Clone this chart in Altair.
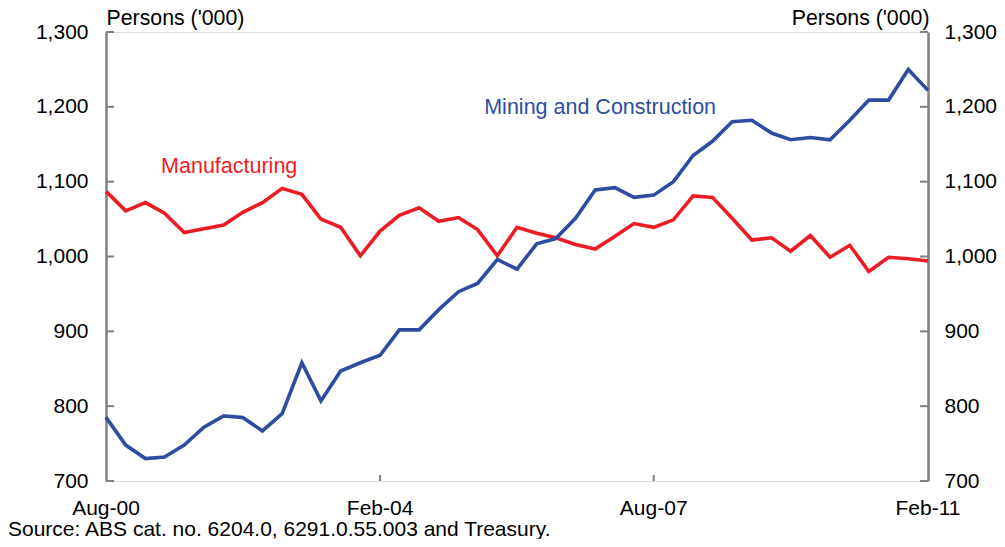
import altair as alt
import pandas as pd

# Quarterly, Aug-00 .. Feb-11 (43 quarters)
quarters = [f"{2000 + (7 + 3 * i) // 12:04d}-{(7 + 3 * i) % 12 + 1:02d}-01" for i in range(43)]
manufacturing = [1087, 1061, 1072, 1058, 1032, 1037, 1042, 1059, 1072, 1091,
                 1083, 1050, 1039, 1001, 1034, 1055, 1065, 1047, 1052, 1036,
                 1001, 1039, 1031, 1025, 1016, 1010, 1027, 1044, 1039, 1049,
                 1081, 1079, 1051, 1022, 1025, 1007, 1028, 999, 1015, 980,
                 999, 997, 994]
mining_construction = [785, 748, 730, 732, 748, 772, 787, 785, 767, 790,
                       858, 807, 847, 858, 868, 902, 902, 929, 953, 964,
                       996, 983, 1017, 1024, 1051, 1089, 1092, 1079, 1082, 1100,
                       1135, 1154, 1180, 1182, 1165, 1156, 1159, 1156, 1182, 1209,
                       1209, 1250, 1222]

x_tick_dates = ["2000-08-01", "2004-02-01", "2007-08-01", "2011-02-01"]
x_tick_labels = ["Aug-00", "Feb-04", "Aug-07", "Feb-11"]
y_ticks = [700, 800, 900, 1000, 1100, 1200, 1300]

series_names = ["Manufacturing", "Mining and Construction"]
series_colors = ["#ED1C24", "#2E4DA0"]
label_dates = ["2001-04-15", "2005-06-01"]
label_y = [1111, 1191]
source_text = "Source: ABS cat. no. 6204.0, 6291.0.55.003 and Treasury."

GREY = "#808080"
FONT = "Arial"
W, H = 822, 449

df = pd.DataFrame({
    "date": quarters * 2,
    "value": manufacturing + mining_construction,
    "series": [series_names[0]] * 43 + [series_names[1]] * 43,
})
lab_df = pd.DataFrame({"date": label_dates, "value": label_y, "text": series_names, "c": series_colors})
ytick_df = pd.DataFrame({"v": y_ticks})
xtick_df = pd.DataFrame({"date": x_tick_dates[1:3]})
xlab_df = pd.DataFrame({"date": x_tick_dates, "text": x_tick_labels})
src_df = pd.DataFrame({"text": [source_text]})

xscale = alt.Scale(type="utc", domain=[x_tick_dates[0], x_tick_dates[-1]], nice=False)
yscale = alt.Scale(domain=[700, 1300], nice=False, zero=False)

left_axis = alt.Axis(values=y_ticks, format=",d", ticks=False, tickSize=0, grid=False,
                     domainColor=GREY, domainWidth=2.5, labelPadding=18,
                     labelFontSize=21, labelFont=FONT, labelColor="black",
                     title="Persons ('000)", titleAngle=0, titleAlign="left",
                     titleBaseline="alphabetic", titleX=0, titleY=-8,
                     titleFontSize=21.3, titleFont=FONT, titleFontWeight="normal",
                     titleColor="black", orient="left")
right_axis = alt.Axis(values=y_ticks, format=",d", ticks=False, tickSize=0, grid=False,
                      domainColor=GREY, domainWidth=2.5, labelPadding=16,
                      labelFontSize=21, labelFont=FONT, labelColor="black",
                      title="Persons ('000)", titleAngle=0, titleAlign="right",
                      titleBaseline="alphabetic", titleX=1, titleY=-8,
                      titleFontSize=21.3, titleFont=FONT, titleFontWeight="normal",
                      titleColor="black", orient="right")
x_axis = alt.Axis(ticks=False, tickSize=0, grid=False, labels=False, title=None,
                  domainColor=GREY, domainWidth=2.5)

lines = alt.Chart(df).mark_line(strokeWidth=3.6).encode(
    x=alt.X("date:T", scale=xscale, axis=x_axis),
    y=alt.Y("value:Q", scale=yscale, axis=left_axis),
    color=alt.Color("series:N", scale=alt.Scale(domain=series_names, range=series_colors), legend=None),
)

right = alt.Chart(ytick_df).mark_rule(opacity=0).encode(
    y=alt.Y("v:Q", scale=yscale, axis=right_axis),
)

labels = alt.Chart(lab_df).mark_text(align="left", baseline="alphabetic", fontSize=21.5, font=FONT).encode(
    x=alt.X("date:T", scale=xscale, axis=None),
    y=alt.Y("value:Q", scale=yscale, axis=None),
    text="text:N",
    color=alt.Color("c:N", scale=None),
)

xlabels = alt.Chart(xlab_df).mark_text(align="center", baseline="alphabetic", fontSize=21,
                                       font=FONT, color="black").encode(
    x=alt.X("date:T", scale=xscale, axis=None),
    y=alt.value(H + 34),
    text="text:N",
)

source = alt.Chart(src_df).mark_text(align="left", baseline="alphabetic", fontSize=21,
                                     font=FONT, color="black").encode(
    x=alt.value(-98), y=alt.value(H + 55), text="text:N",
)

ytick_left = alt.Chart(ytick_df).mark_rule(color=GREY, strokeWidth=2).encode(
    y=alt.Y("v:Q", scale=yscale, axis=None),
    x=alt.value(0), x2=alt.value(8),
)
ytick_right = alt.Chart(ytick_df).mark_rule(color=GREY, strokeWidth=2).encode(
    y=alt.Y("v:Q", scale=yscale, axis=None),
    x=alt.value(W - 8), x2=alt.value(W),
)
xtick = alt.Chart(xtick_df).mark_rule(color=GREY, strokeWidth=2).encode(
    x=alt.X("date:T", scale=xscale, axis=None),
    y=alt.value(H - 6), y2=alt.value(H),
)

chart = alt.layer(ytick_left, ytick_right, xtick, lines, labels, xlabels, source, right).resolve_scale(
    y="independent"
).properties(
    width=W, height=H,
    autosize=alt.AutoSizeParams(type="none"),
    padding={"left": 98, "top": 24, "right": 69, "bottom": 58},
).configure_view(stroke=None).configure(background="white")

chart.save("out.html", embed_options={"renderer": "svg", "actions": False})
